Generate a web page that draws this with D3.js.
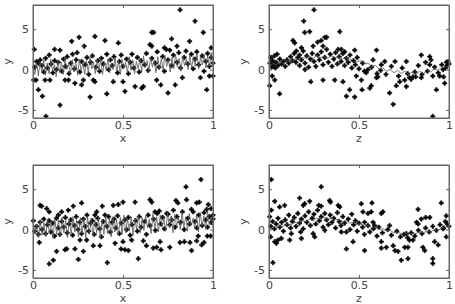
<!DOCTYPE html>
<html>
<head>
<meta charset="utf-8">
<script src="https://cdn.jsdelivr.net/npm/d3@7"></script>
<style>
  body { margin: 0; background: #fff; }
  svg { display: block; }
  .tick text { font-family: "DejaVu Sans", sans-serif; font-size: 11px; fill: #444; }
  .lab { font-family: "DejaVu Sans", sans-serif; font-size: 11px; fill: #444; }
</style>
</head>
<body>
<svg width="455" height="304"></svg>
<script>
// tick labels
var xTicks = [0, 0.5, 1];
var yTicks = [-5, 0, 5];

// top left: y against x
var tlPts = [
  [0.007,2.5],[0.817,7.4],[0.9,6.0],[0.946,4.6],[0.66,4.6],[0.67,4.6],[0.77,3.8],[0.87,3.5],[0.474,3.3],[0.344,4.1],
  [0.4,3.6],[0.256,4.0],[0.215,3.5],[0.15,2.4],[0.12,2.5],[0.285,2.9],[0.245,2.1],[0.65,3.1],[0.66,2.9],[0.73,2.7],
  [0.74,2.5],[0.8,2.9],[0.99,2.7],[1.0,-0.8],[0.98,-0.8],[0.93,-1.0],[0.965,-2.5],[0.83,-1.0],[0.79,-1.9],[0.75,-2.9],
  [0.71,-1.9],[0.687,-1.3],[0.613,-2.1],[0.604,-2.3],[0.567,-2.1],[0.511,-2.7],[0.5,-1.5],[0.446,-1.5],[0.41,-3.0],[0.335,-1.3],
  [0.344,-1.5],[0.317,-3.4],[0.28,-1.3],[0.27,-1.9],[0.233,-1.7],[0.197,-1.3],[0.178,-1.3],[0.15,-4.4],[0.094,-1.3],[0.067,-1.3],
  [0.03,-2.5],[0.052,-3.3],[0.072,-5.8],[0.004,-1.3],[0.017,-1.3],
  [0.01,0.3],[0.02,1.0],[0.03,0.8],[0.04,1.2],[0.05,0.5],[0.06,-0.3],[0.07,1.4],[0.08,0.2],[0.09,1.8],[0.1,0.7],
  [0.11,-0.4],[0.12,1.1],[0.13,0.0],[0.14,0.9],[0.16,-0.2],[0.17,1.3],[0.18,0.4],[0.19,1.6],[0.2,-0.5],[0.21,0.8],
  [0.22,1.9],[0.23,0.1],[0.24,1.2],[0.26,-0.3],[0.27,1.0],[0.29,0.6],[0.3,1.5],[0.31,-0.6],[0.32,0.9],[0.33,1.7],
  [0.35,0.3],[0.36,1.1],[0.37,-0.2],[0.38,1.4],[0.39,0.7],[0.41,1.9],[0.42,0.0],[0.43,1.2],[0.44,0.5],[0.45,1.6],
  [0.47,-0.4],[0.48,1.0],[0.49,1.8],[0.5,0.4],[0.52,1.3],[0.53,-0.5],[0.54,0.9],[0.55,1.9],[0.56,0.2],[0.58,1.5],
  [0.59,-0.3],[0.6,1.1],[0.62,0.6],[0.63,2.0],[0.64,-0.1],[0.66,1.4],[0.68,0.8],[0.69,2.2],[0.7,0.3],[0.72,1.6],
  [0.73,-0.2],[0.75,1.2],[0.76,2.4],[0.77,0.5],[0.78,1.8],[0.8,0.9],[0.81,2.1],[0.82,0.2],[0.84,1.5],[0.85,2.3],
  [0.86,0.7],[0.88,1.9],[0.89,0.1],[0.9,1.3],[0.91,2.2],[0.92,0.6],[0.94,1.7],[0.95,-0.2],[0.96,1.0],[0.97,2.0],
  [0.98,0.4],[0.99,1.5],[1.0,0.8]
];
var tlLine = [0.2,-0.6,0.9,-0.8,1.0,-0.3,1.2,-0.7,0.8,-0.5,1.3,-0.2,0.6,-0.9,1.1,-0.4,0.9,-0.6,1.4,0.0,
  0.7,-0.5,1.2,-0.3,1.0,-0.7,1.3,-0.1,0.8,-0.6,1.1,-0.4,1.5,0.1,0.9,-0.5,1.2,-0.2,1.4,-0.6,
  1.0,-0.1,1.3,-0.4,0.8,0.0,1.5,-0.3,1.1,-0.6,1.3,0.2,0.9,-0.4,1.6,-0.1,1.2,-0.5,1.0,0.1,
  1.4,-0.3,1.7,0.2,1.1,-0.2,1.5,0.3,1.2,-0.4,1.6,0.0,1.3,-0.1,1.8,0.4,1.2,-0.3,1.5,0.1,
  1.9,0.3,1.4,-0.2,1.7,0.5,1.3,0.0,1.8,0.2,1.6,0.4,2.0,0.1,1.5,0.6,1.9,0.2,1.7,0.4,2.1,0.3];

// top right: y against z
var trPts = [
  [0.25,7.4],[0.193,6.0],[0.198,4.6],[0.226,4.7],[0.393,4.7],[0.31,4.0],[0.32,4.0],[0.27,3.4],[0.29,3.6],[0.133,3.6],
  [0.143,3.3],[0.245,2.9],[0.3,2.9],[0.384,2.5],[0.402,2.5],[0.42,2.2],[0.476,2.4],[0.597,2.4],[0.18,2.7],[0.152,2.3],
  [0.17,1.8],[0.032,-1.3],[0.004,-2.0],[0.018,-0.8],[0.059,-3.0],[0.232,-1.5],[0.2,0.0],[0.3,-1.3],[0.365,-1.3],[0.411,-1.5],
  [0.43,-3.3],[0.448,-2.5],[0.476,-3.4],[0.485,-0.8],[0.513,-1.3],[0.517,-2.5],[0.56,-2.3],[0.568,-2.0],[0.597,-1.0],[0.605,-0.9],
  [0.67,-2.9],[0.69,-4.3],[0.707,-2.0],[0.726,-1.5],[0.754,-1.3],[0.763,-2.1],[0.78,-1.0],[0.8,-0.9],[0.815,-0.9],[0.846,-1.0],
  [0.846,1.8],[0.893,0.6],[0.893,1.6],[0.91,-0.8],[0.91,-5.8],[0.93,-2.5],[0.948,-0.8],[0.967,0.0],[0.976,-1.7],[0.985,0.9],
  [0.995,1.0],[0.763,1.0],[0.7,1.0],[0.643,1.0],[0.624,0.6],[0.68,0.4],[0.578,1.2],[0.55,0.0],[0.53,-0.2],
  [0.005,0.8],[0.01,1.5],[0.015,0.3],[0.02,1.1],[0.025,0.6],[0.03,1.7],[0.035,0.2],[0.04,0.9],[0.045,1.9],[0.05,0.5],
  [0.06,1.3],[0.07,0.7],[0.08,1.0],[0.09,0.4],[0.1,1.2],[0.11,0.8],[0.12,1.6],[0.13,1.1],[0.14,2.0],[0.15,0.9],
  [0.16,1.5],[0.17,0.5],[0.18,1.2],[0.19,2.3],[0.2,0.8],[0.21,1.7],[0.22,0.3],[0.23,1.3],[0.24,2.0],[0.25,1.0],
  [0.26,0.4],[0.27,1.8],[0.28,1.2],[0.29,2.2],[0.3,0.6],[0.31,1.5],[0.32,2.5],[0.33,0.9],[0.34,1.9],[0.35,0.4],
  [0.36,1.3],[0.37,2.1],[0.38,0.7],[0.39,1.6],[0.4,1.0],[0.41,2.0],[0.42,0.5],[0.43,1.4],[0.44,0.9],[0.45,1.8],
  [0.46,0.2],[0.47,1.1],[0.48,0.6],[0.49,1.5],[0.5,0.1],[0.52,0.8],[0.54,-0.4],[0.57,0.3],[0.6,-0.5],[0.62,-0.1],
  [0.65,-0.6],[0.72,-0.8],[0.74,0.2],[0.77,-0.5],[0.79,-1.2],[0.81,-0.3],[0.83,0.5],[0.85,-0.6],[0.87,0.9],[0.88,-0.2],
  [0.9,1.2],[0.92,0.3],[0.94,-0.4],[0.96,0.6],[0.97,-0.9],[0.98,0.2],[0.99,0.5],[1.0,0.7]
];
var trLine = [0.5,0.7,0.6,0.9,0.8,1.1,1.0,1.3,1.2,1.5,1.4,1.6,1.4,1.7,1.5,1.6,1.4,1.7,1.5,1.6,
  1.3,1.5,1.2,1.3,1.0,1.1,0.7,0.8,0.4,0.5,0.1,0.2,-0.2,0.0,-0.4,-0.1,-0.5,-0.2,-0.6,-0.3,
  -0.6,-0.2,-0.5,-0.1,-0.3,0.1,-0.1,0.3,0.2,0.5];

// bottom left: y against x
var blPts = [
  [0.933,6.2],[0.85,5.3],[0.853,3.7],[0.794,3.6],[0.805,3.3],[0.65,3.7],[0.66,3.4],[0.567,3.4],[0.5,3.4],[0.474,3.1],
  [0.446,3.0],[0.385,2.9],[0.27,3.3],[0.224,2.9],[0.196,2.4],[0.159,2.2],[0.039,3.0],[0.048,2.9],[0.076,2.6],[0.09,2.2],
  [0.141,1.8],[0.354,2.2],[0.344,1.8],[0.4,1.8],[0.678,2.2],[0.702,2.3],[0.743,2.0],[0.89,2.2],[0.909,3.3],[0.924,3.4],
  [0.974,3.1],[0.965,2.5],[1.0,1.8],[0.989,2.6],[0.035,-1.6],[0.09,-4.25],[0.113,-3.8],[0.131,-2.7],[0.178,-2.5],[0.187,-2.4],
  [0.233,-2.4],[0.252,-3.7],[0.28,-2.7],[0.298,-1.3],[0.261,-1.3],[0.335,-2.0],[0.372,-2.0],[0.413,-4.1],[0.456,-1.7],[0.489,-2.4],
  [0.511,-2.5],[0.53,-2.6],[0.5,-1.5],[0.548,-1.3],[0.613,-1.4],[0.585,-3.6],[0.63,-2.0],[0.668,-2.3],[0.687,-2.2],[0.711,-2.5],
  [0.706,-1.5],[0.76,-2.2],[0.817,-1.6],[0.841,-1.5],[0.872,-1.6],[0.881,-2.6],[0.909,-1.4],[0.937,-1.9],[0.95,-1.6],[0.969,-0.8],
  [0.987,-0.8],[0.918,-0.8],[0.002,1.1],
  [0.01,-0.2],[0.02,0.4],[0.03,-0.6],[0.04,0.9],[0.05,0.0],[0.06,1.3],[0.07,-0.5],[0.08,0.6],[0.09,1.1],[0.1,-0.3],
  [0.11,0.8],[0.12,-0.8],[0.13,1.4],[0.14,0.2],[0.15,-0.6],[0.16,1.0],[0.17,0.3],[0.18,1.5],[0.19,-0.4],[0.2,0.7],
  [0.21,1.2],[0.22,-0.7],[0.23,0.5],[0.24,1.6],[0.25,0.0],[0.26,0.9],[0.27,-0.5],[0.28,1.3],[0.29,0.4],[0.3,1.8],
  [0.31,-0.2],[0.32,0.8],[0.33,1.1],[0.34,-0.6],[0.35,0.6],[0.36,1.4],[0.37,0.1],[0.38,-0.9],[0.39,1.0],[0.41,0.4],
  [0.42,1.6],[0.43,-0.3],[0.44,0.9],[0.45,1.3],[0.46,0.2],[0.47,1.7],[0.48,-0.5],[0.49,0.8],[0.51,1.2],[0.52,0.0],
  [0.53,1.5],[0.54,-0.7],[0.55,0.6],[0.57,1.1],[0.58,-0.2],[0.59,1.6],[0.6,0.3],[0.62,1.0],[0.63,-0.6],[0.64,1.8],
  [0.65,0.5],[0.67,1.3],[0.68,-0.1],[0.69,2.0],[0.71,0.7],[0.72,1.5],[0.73,0.1],[0.75,1.9],[0.76,0.6],[0.77,1.2],
  [0.78,2.4],[0.79,0.3],[0.8,1.6],[0.82,0.9],[0.83,2.2],[0.84,0.0],[0.86,1.4],[0.87,0.7],[0.88,2.5],[0.9,1.0],
  [0.91,0.2],[0.92,1.8],[0.94,0.5],[0.95,2.1],[0.96,1.2],[0.97,0.3],[0.98,1.6],[0.99,0.9],[1.0,1.3]
];
var blLine = [1.0,-0.4,0.6,-1.0,1.1,-0.7,0.9,-0.9,1.3,-0.5,1.0,-1.1,1.4,-0.6,1.2,-0.9,1.5,-0.4,1.1,-1.0,
  1.4,-0.7,1.6,-0.3,1.2,-0.9,1.5,-0.5,1.3,-1.0,1.6,-0.6,1.4,-0.8,1.2,-0.4,1.5,-1.0,1.3,-0.6,
  1.7,-0.5,1.4,-0.9,1.6,-0.3,1.2,-0.8,1.5,-0.6,1.8,-0.4,1.3,-0.2,1.6,-0.7,1.4,0.0,1.9,-0.4,
  1.5,-0.1,1.7,0.2,1.3,-0.5,2.0,0.1,1.6,-0.3,1.8,0.3,1.4,-0.2,2.1,0.2,1.7,-0.4,1.9,0.4,
  1.5,0.0,2.2,0.3,1.6,-0.2,2.0,0.5,1.4,0.1,1.8,-0.3,2.1,0.4,1.7,0.0,2.3,0.6,1.5,0.2];

// bottom right: y against z
var brPts = [
  [0.013,6.2],[0.29,5.3],[0.022,-4.1],[0.009,-0.9],[0.004,1.6],[0.013,2.4],[0.032,3.5],[0.059,2.8],[0.087,3.0],[0.032,-1.5],
  [0.05,-1.3],[0.041,-1.7],[0.068,-1.1],[0.115,-1.3],[0.124,-0.5],[0.17,3.9],[0.19,3.0],[0.198,3.2],[0.226,3.5],[0.18,-1.1],
  [0.176,-0.3],[0.245,-0.5],[0.254,-0.9],[0.276,3.0],[0.29,2.9],[0.337,3.6],[0.342,3.4],[0.384,3.0],[0.393,2.8],[0.402,-0.3],
  [0.31,-0.1],[0.43,-0.3],[0.43,-2.4],[0.467,-1.5],[0.513,3.2],[0.522,2.2],[0.531,0.9],[0.531,-2.6],[0.572,3.3],[0.568,2.2],
  [0.55,2.0],[0.578,0.9],[0.587,0.5],[0.624,2.0],[0.633,2.2],[0.624,-1.5],[0.652,-2.2],[0.624,-2.3],[0.67,0.5],[0.69,-2.0],
  [0.7,-2.6],[0.717,-2.7],[0.735,-3.8],[0.772,-3.6],[0.754,-2.2],[0.772,-2.2],[0.78,-1.3],[0.8,-1.3],[0.763,-0.5],[0.828,2.5],
  [0.828,0.7],[0.82,0.9],[0.846,1.3],[0.87,1.5],[0.893,1.5],[0.855,-2.2],[0.865,-2.6],[0.91,-3.6],[0.91,-4.2],[0.92,-1.5],
  [0.94,-1.9],[0.957,3.3],[0.967,0.1],[0.985,1.7],[0.985,-0.9],[0.99,0.7],
  [0.01,0.4],[0.02,1.0],[0.03,0.1],[0.04,0.7],[0.05,1.4],[0.06,0.3],[0.07,0.9],[0.08,-0.2],[0.09,1.2],[0.1,0.6],
  [0.11,1.8],[0.12,0.2],[0.13,1.0],[0.14,1.5],[0.15,0.4],[0.16,2.0],[0.17,0.8],[0.18,1.3],[0.19,0.1],[0.2,1.7],
  [0.21,0.9],[0.22,2.2],[0.23,0.5],[0.24,1.4],[0.25,1.9],[0.26,0.7],[0.27,2.4],[0.28,1.1],[0.29,1.6],[0.3,0.3],
  [0.31,2.0],[0.32,1.2],[0.33,0.6],[0.34,1.8],[0.35,0.9],[0.36,1.4],[0.37,0.2],[0.38,2.1],[0.39,1.0],[0.4,0.5],
  [0.41,1.6],[0.42,0.8],[0.44,1.3],[0.45,0.0],[0.46,1.9],[0.47,0.6],[0.48,1.1],[0.49,-0.2],[0.5,0.8],[0.52,0.3],
  [0.53,-0.6],[0.55,0.5],[0.56,-0.3],[0.58,0.1],[0.6,-0.8],[0.61,0.3],[0.63,-0.4],[0.66,0.0],[0.68,-0.7],[0.71,-0.2],
  [0.73,-0.9],[0.75,-0.6],[0.77,-1.0],[0.79,-0.4],[0.81,-0.8],[0.83,-0.1],[0.85,-0.5],[0.87,0.2],[0.89,-0.3],[0.91,0.4],
  [0.93,-0.1],[0.95,0.6],[0.97,0.2],[0.98,1.0],[1.0,0.4]
];
var brLine = [0.1,0.3,0.2,0.5,0.4,0.7,0.6,0.9,0.8,1.1,1.0,1.3,1.1,1.4,1.3,1.5,1.3,1.4,1.2,1.3,
  1.0,1.1,0.8,0.9,0.6,0.7,0.4,0.5,0.2,0.3,0.0,0.1,-0.2,-0.1,-0.4,-0.3,-0.5,-0.4,-0.6,-0.4,
  -0.5,-0.3,-0.4,-0.2,-0.3,0.0,-0.1,0.2,0.3,0.5];

var svg = d3.select('svg');

var panels = [
  {left: 33, right: 213, top: 5, bottom: 118, name: 'x', pts: tlPts, line: tlLine},
  {left: 269, right: 449, top: 5, bottom: 118, name: 'z', pts: trPts, line: trLine},
  {left: 33, right: 213, top: 165, bottom: 278, name: 'x', pts: blPts, line: blLine},
  {left: 269, right: 449, top: 165, bottom: 278, name: 'z', pts: brPts, line: brLine}
];

var marker = d3.symbol().type(d3.symbolCross).size(10);
var fmt = function(d) { return String(d); };

panels.forEach(function(p) {
  var x = d3.scaleLinear().domain([0, 1]).range([p.left, p.right]);
  var y = d3.scaleLinear().domain([-6, 8]).range([p.bottom, p.top]);
  var g = svg.append('g');

  // points
  g.append('g').selectAll('path')
    .data(p.pts)
    .enter()
    .append('path')
    .attr('d', marker)
    .attr('transform', function(d) { return 'translate(' + x(d[0]) + ',' + y(d[1]) + ')'; })
    .attr('fill', '#000')
    .attr('stroke', '#000')
    .attr('stroke-width', 0.6);

  // fitted line
  var n = p.line.length;
  var line = d3.line()
    .x(function(d, i) { return x(i / (n - 1)); })
    .y(function(d) { return y(d); });
  g.append('path')
    .datum(p.line)
    .attr('d', line)
    .attr('fill', 'none')
    .attr('stroke', '#555')
    .attr('stroke-width', 0.8);

  // axes, ticks pointing inward
  g.append('g')
    .attr('transform', 'translate(0,' + p.bottom + ')')
    .call(d3.axisBottom(x).tickValues(xTicks).tickSize(-3).tickPadding(3).tickFormat(fmt));
  g.append('g')
    .attr('transform', 'translate(0,' + p.top + ')')
    .call(d3.axisTop(x).tickValues(xTicks).tickSize(-3).tickFormat(''));
  g.append('g')
    .attr('transform', 'translate(' + p.left + ',0)')
    .call(d3.axisLeft(y).tickValues(yTicks).tickSize(-3).tickPadding(4).tickFormat(fmt));
  g.append('g')
    .attr('transform', 'translate(' + p.right + ',0)')
    .call(d3.axisRight(y).tickValues(yTicks).tickSize(-3).tickFormat(''));
  g.selectAll('.domain').attr('stroke', '#666');
  g.selectAll('.tick line').attr('stroke', '#666');

  g.append('rect')
    .attr('x', p.left).attr('y', p.top)
    .attr('width', p.right - p.left).attr('height', p.bottom - p.top)
    .attr('fill', 'none').attr('stroke', '#666');

  g.append('text')
    .attr('class', 'lab')
    .attr('x', (p.left + p.right) / 2)
    .attr('y', p.bottom + 24)
    .attr('text-anchor', 'middle')
    .text(p.name);
  g.append('text')
    .attr('class', 'lab')
    .attr('transform', 'translate(' + (p.left - 22) + ',' + ((p.top + p.bottom) / 2) + ') rotate(-90)')
    .attr('text-anchor', 'middle')
    .text('y');
});
</script>
</body>
</html>
